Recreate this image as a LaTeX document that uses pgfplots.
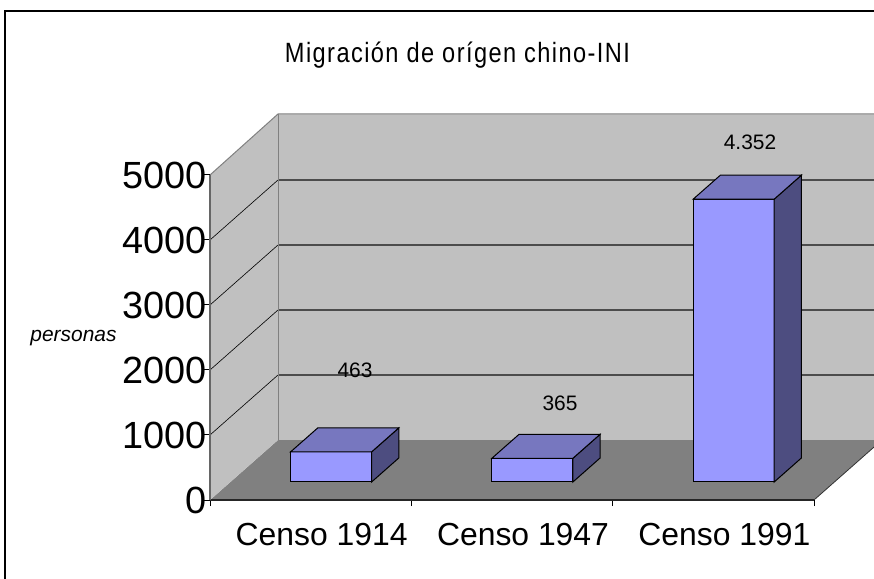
\documentclass[border=0pt]{standalone}
\usepackage{pgfplots}
\pgfplotsset{compat=1.18}
\usepackage{pgfplotstable}
\usepackage{fontspec}
\setmainfont{Liberation Sans}
\definecolor{barfront}{HTML}{9999FF}
\definecolor{bartop}{HTML}{7777BF}
\definecolor{barside}{HTML}{4D4D80}
\definecolor{wall}{HTML}{C0C0C0}
\definecolor{floorc}{HTML}{808080}

\pgfplotstableread{
x v
0.5 463
1.5 365
2.5 4352
}\datatab

\pgfdeclareplotmark{box3d}{%
  \pgfmathsetlengthmacro\hh{\val*0.065bp}%
  \pgfsetlinewidth{1bp}%
  \pgfsetstrokecolor{black}%
  \pgfsetfillcolor{barside}%
  \pgfpathmoveto{\pgfpoint{40.5bp}{0bp}}%
  \pgfpathlineto{\pgfpoint{67.7bp}{24bp}}%
  \pgfpathlineto{\pgfpoint{67.7bp}{24bp-\hh}}%
  \pgfpathlineto{\pgfpoint{40.5bp}{-\hh}}%
  \pgfpathclose
  \pgfusepath{fill,stroke}%
  \pgfsetfillcolor{bartop}%
  \pgfpathmoveto{\pgfpoint{-40.5bp}{0bp}}%
  \pgfpathlineto{\pgfpoint{40.5bp}{0bp}}%
  \pgfpathlineto{\pgfpoint{67.7bp}{24bp}}%
  \pgfpathlineto{\pgfpoint{-13.3bp}{24bp}}%
  \pgfpathclose
  \pgfusepath{fill,stroke}%
}

\begin{document}
\begin{tikzpicture}
\useasboundingbox (0,0) rectangle (874bp,579bp);
\fill[white] (0,0) rectangle (874bp,579bp);
\begin{scope}
\clip (0,0) rectangle (874bp,579bp);
% floor
\fill[floorc] (210bp,79bp) -- (814bp,79bp) -- (882bp,139bp) -- (278bp,139bp) -- cycle;
\draw[black!80, line width=0.8bp] (814bp,79bp) -- (882bp,139bp);
% back wall
\fill[wall] (278bp,139bp) -- (882bp,139bp) -- (882bp,465bp) -- (278bp,465bp) -- cycle;
% side wall
\fill[wall] (210bp,79bp) -- (278bp,139bp) -- (278bp,465bp) -- (210bp,404bp) -- cycle;
% gridlines
\foreach \k in {1,2,3,4} {
  \draw[black!70, line width=1.1bp] (278bp,{(139+65*\k)*1bp}) -- (882bp,{(139+65*\k)*1bp});
  \draw[black, line width=0.6bp] (210bp,{(79+65*\k)*1bp}) -- (278bp,{(139+65*\k)*1bp});
}
\draw[black!50, line width=1bp] (210bp,404bp) -- (278bp,465bp) -- (882bp,465bp);
\draw[black!50, line width=1bp] (278bp,139bp) -- (278bp,465bp);
% frame
\draw[black, line width=1.2bp] (5bp,-20bp) -- (5bp,568bp) -- (900bp,568bp);
\end{scope}

\begin{axis}[at={(210bp,79bp)}, anchor=south west, scale only axis,
  width=604bp, height=325bp, xmin=0, xmax=3, ymin=0, ymax=5000, clip=false,
  axis x line*=bottom, axis y line*=left,
  x axis line style={black!85, line width=1.6bp},
  y axis line style={black!60, line width=1.2bp},
  xtick={0,1,2,3}, xticklabels={}, ytick={0,1000,2000,3000,4000,5000},
  tick align=outside, major tick length=6bp, tick style={black, line width=1bp},
  yticklabel style={font=\fontsize{38}{38}\selectfont, inner sep=0pt, xshift=3bp},
  /pgf/number format/1000 sep={}, /pgf/number format/assume math mode=true,
  scaled y ticks=false,
]
\node[font=\fontsize{32}{32}\selectfont, xshift=11bp, yshift=-34.5bp] at (axis cs:0.5,0) {Censo 1914};
\node[font=\fontsize{32}{32}\selectfont, xshift=11bp, yshift=-34.5bp] at (axis cs:1.5,0) {Censo 1947};
\node[font=\fontsize{32}{32}\selectfont, xshift=11bp, yshift=-34.5bp] at (axis cs:2.5,0) {Censo 1991};
\end{axis}

\begin{axis}[at={(230.4bp,97bp)}, anchor=south west, scale only axis,
  width=604bp, height=325bp, xmin=0, xmax=3, ymin=0, ymax=5000, clip=false, hide axis]
\addplot[ybar, bar width=81bp, fill=barfront, draw=black, line width=1bp] table[x=x,y=v]{\datatab};
\addplot[scatter, only marks, mark=box3d, visualization depends on={rawy\as\val},
  scatter/use mapped color={draw=black,fill=black}] table[x=x,y=v]{\datatab};
\end{axis}

\node[anchor=base, inner sep=0pt, font=\fontsize{28}{28}\selectfont] at (457.5bp,516bp) {\resizebox{345bp}{\height}{\addfontfeature{LetterSpace=6}Migración de orígen chino-INI}};
\node[anchor=base, font=\itshape\fontsize{21}{21}\selectfont] at (73.5bp,237bp) {personas};
\node[font=\fontsize{21}{21}\selectfont] at (355bp,209bp) {463};
\node[font=\fontsize{21}{21}\selectfont] at (560bp,176bp) {365};
\node[font=\fontsize{21}{21}\selectfont] at (750bp,437bp) {4.352};
\end{tikzpicture}
\end{document}
